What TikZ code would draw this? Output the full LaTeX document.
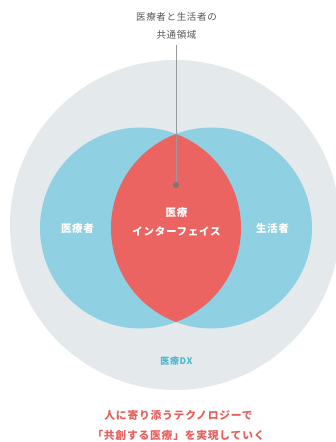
\documentclass[tikz,border=0pt]{standalone}
\usepackage{fontspec}
\newfontfamily\jp[LetterSpace=7]{Noto Sans CJK JP}
\definecolor{outergray}{HTML}{E4E9EC}
\definecolor{venblue}{HTML}{8FD0E2}
\definecolor{lensred}{HTML}{EC6461}
\definecolor{txtgray}{HTML}{555555}
\definecolor{dxblue}{HTML}{4BB8D0}
\definecolor{msgred}{HTML}{E8605E}
\definecolor{linegray}{HTML}{9A9A9A}
\tikzset{
  lbl/.style={font=\jp\fontsize{9.5}{12}\selectfont, text=txtgray, align=center, inner sep=0pt},
  whitelbl/.style={font=\jp\bfseries\fontsize{10.5}{19}\selectfont, text=white, align=center, inner sep=0pt},
  dxlbl/.style={font=\jp\bfseries\fontsize{9}{11}\selectfont, text=dxblue, inner sep=0pt},
  msglbl/.style={font=\jp\bfseries\fontsize{10.8}{20}\selectfont, text=msgred, align=center, inner sep=0pt},
}
\begin{document}
\begin{tikzpicture}[x=1pt,y=-1pt]
\useasboundingbox (0,0) rectangle (336,442);
\fill[outergray] (175,225) circle[radius=165];
\fill[venblue] (140.5,228) circle[radius=100.5];
\fill[venblue] (211.5,228) circle[radius=100.5];
\begin{scope}
  \clip (140.5,228) circle[radius=100.5];
  \fill[lensred] (211.5,228) circle[radius=100.5];
\end{scope}
\node[lbl] (top) at (176.5,26) {医療者と生活者の\\[6pt]共通領域};
\coordinate (dot) at (176,185);
\draw[linegray, line width=0.8pt] (176,45) -- (dot);
\fill[txtgray!80] (dot) circle[radius=3];
\node[whitelbl] (iface) at (176.5,221.5) {医療\\インターフェイス};
\node[whitelbl] (med) at (77.5,229) {医療者};
\node[whitelbl] (life) at (272.5,229) {生活者};
\node[dxlbl] (dx) at (176.5,361) {医療DX};
\node[msglbl] (msg) at (178.5,425) {人に寄り添うテクノロジーで\\「共創する医療」を実現していく};
\end{tikzpicture}
\end{document}
